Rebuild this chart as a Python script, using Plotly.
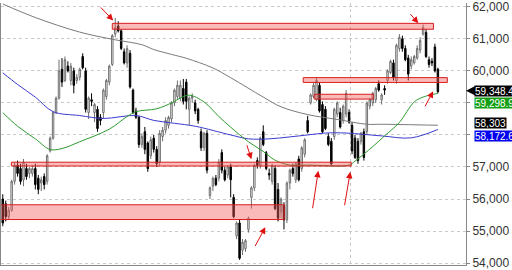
import plotly.graph_objects as go

# ---- candle data (one candle per session, left to right) ----
opens = [56000,55850,55450,55650,56550,57050,56950,56600,56950,56800,
         56800,56950,56650,56500,56700,56550,57500,57900,58700,59150,
         60050,59700,60150,59700,60000,59700,59800,60450,60000,58700,
         59100,58700,58800,58550,58700,59200,59650,60200,61150,61400,
         61250,60600,60250,60550,59400,58750,58550,57700,58100,57750,
         57350,57900,57550,57150,57950,58150,58300,58500,59000,59200,
         59150,59450,59650,58800,59150,59000,58800,58100,57600,58050,
         56100,56400,56650,56650,57450,56900,56750,57000,56050,54850,
         55250,54400,54450,55050,56050,56350,57200,57050,58100,57450,
         56800,56550,56950,56300,55600,55800,55350,56500,56950,56600,
         57250,56950,57400,58450,59000,59200,59100,59550,58950,58800,
         57950,57800,57950,58650,58700,58450,58650,58700,58300,57900,
         57800,57800,58100,58100,58900,59000,59100,59600,59100,59450,
         59700,59950,60250,59700,60700,61000,60700,60400,60150,60250,
         60400,60650,61150,61200,60350,60300,60750,60050]
highs = [56150,55950,55750,56600,57150,57200,57100,57250,57100,57000,
         57050,57100,56750,56700,56800,57400,57950,58750,59200,60350,
         60400,60450,60300,60250,60100,59900,60100,60550,60100,59200,
         59300,59000,58900,58650,59450,59750,60200,61150,61650,61550,
         61300,60700,60800,60650,59450,58850,58600,58050,58250,57800,
         57950,58000,57650,58150,58250,58550,58600,59050,59450,59700,
         59700,59750,59750,59200,59300,59100,58850,58200,58100,58150,
         56400,56700,56750,57250,57550,57000,57050,57100,56150,55300,
         55350,54750,54750,55450,56400,57100,57300,57950,58300,57500,
         56950,57100,57050,56500,56050,55900,56550,56950,57100,57150,
         57350,57650,57900,58600,59300,59650,59800,59650,59050,58900,
         58050,57900,58850,59050,58850,58950,59400,58800,58400,58000,
         57900,58100,58200,59050,59150,59350,59500,59700,59300,59550,
         60050,60350,60350,60850,61150,61100,60800,60500,60450,60500,
         60800,61050,61450,61300,60450,60400,60850,60100]
lows = [55150,55300,55350,55600,56450,56700,56450,56400,56600,56650,
        56700,56300,56150,56250,56300,56450,57450,57850,58650,59100,
        59500,59650,59950,59550,59300,59600,59700,60050,58700,58500,
        58900,58400,58100,58300,58500,59100,59550,60150,61050,61200,
        60650,60200,60100,59450,58650,58500,57600,57600,57400,56850,
        57250,57450,57000,57050,57800,58050,58200,58400,58900,59100,
        59050,58950,58800,58300,59000,58650,58350,57500,57500,56800,
        56000,56250,56400,56550,56800,56550,56650,56050,55400,54750,
        54100,54250,54350,54950,55700,56250,56950,56950,57650,56900,
        56600,56450,55650,55300,55400,55050,55250,56300,56700,56500,
        56550,56850,57300,58050,58950,59150,59050,58700,58050,58150,
        57650,57050,57850,58550,58200,58350,58550,58350,57400,57250,
        57100,57700,57200,58000,58800,58900,59000,59350,58950,59250,
        59600,59900,59700,59600,60600,60600,60300,59700,60050,60200,
        60350,60550,61100,60400,60100,60150,59950,59300]
closes = [55250,55450,55650,56550,57050,56800,56550,57150,56700,56950,
          56950,56450,56300,56600,56450,57350,57900,58700,59150,60000,
          59650,60350,60000,60150,59550,59800,60050,60100,58800,59150,
          59050,58950,58200,58450,59400,59700,60150,61100,61350,61250,
          60700,60250,60700,59500,58700,58550,57700,57950,57550,56950,
          57850,57550,57100,58050,58150,58450,58550,59000,59400,59550,
          59550,59050,59050,59150,59200,58750,58450,57600,58050,56900,
          56350,56650,56450,57150,56900,56600,57000,56600,55450,55250,
          54150,54650,54700,55400,56350,57050,57050,57900,57700,56950,
          56750,57050,55700,55400,56000,55350,56500,56900,56800,57100,
          56600,57600,57850,58100,59250,59550,59700,58750,58100,58200,
          57700,57100,58800,59000,58250,58900,59300,58400,57500,57300,
          57200,58050,57300,59000,59100,59300,59450,59400,59250,59400,
          60000,60300,59800,60800,61050,60700,60350,59900,60350,60450,
          60700,60950,61350,60450,60200,60250,60000,59348.4]

# ---- moving averages (read at sample candles) ----
ma_long_idx = [0, 11, 26, 38, 47, 51, 57, 62, 71, 77, 88, 94, 103, 113, 123, 128, 147]
ma_long_val = [62090, 61667, 61212, 60970, 60818, 60667, 60515, 60394, 60091, 59788,
               59182, 58879, 58637, 58485, 58334, 58334, 58303]
ma_mid_idx = [0, 5, 11, 17, 26, 34, 45, 51, 58, 65, 77, 83, 90, 97, 103, 109, 116, 128, 138, 147]
ma_mid_val = [59940, 59576, 59182, 58728, 58606, 58515, 58606, 58455, 58364, 58273,
              58000, 57879, 57879, 57940, 58000, 58060, 58060, 57970, 57910, 58172.6]
ma_short_idx = [0, 5, 11, 16, 20, 26, 36, 42, 45, 52, 57, 60, 63, 68, 73, 77, 83, 88, 92,
                97, 103, 117, 119, 125, 129, 134, 139, 142, 147]
ma_short_val = [58697, 58273, 57879, 57546, 57576, 57788, 58182, 58576, 58728, 58818,
                59000, 59152, 59243, 59030, 58576, 58243, 57788, 57485, 57212, 57061,
                57061, 57061, 57182, 57637, 57970, 58394, 59030, 59182, 59298.9]

# ---- support / resistance zones: (start candle, end candle, low, high) ----
zone_start = [37, 101.5, 105.2, 2.9, -1]
zone_end = [145.5, 150.2, 125.2, 117.7, 95.1]
zone_low = [61300, 59640, 59120, 57030, 55360]
zone_high = [61485, 59790, 59270, 57150, 55820]

# ---- arrows: tail (candle, price) -> head (candle, price) ----
arrow_tail_x = [32.6, 137.3, 142.4, 82.3, 85.0, 104.6, 115.4]
arrow_tail_y = [62030, 61818, 58849, 57727, 54485, 55667, 55758]
arrow_head_x = [37.3, 140.4, 145.4, 84.0, 88.7, 106.6, 117.4]
arrow_head_y = [61576, 61485, 59364, 57243, 55121, 56880, 56849]

# ---- price axis ticks ----
tick_vals = [54000, 55000, 56000, 57000, 58000, 59000, 60000, 61000, 62000]
tick_text = ["54,000", "55,000", "56,000", "57,000", "", "", "60,000", "61,000", "62,000"]

# ---- price labels on the right axis ----
label_text = ["59,348.4", "59,298.9", "58,303", "58,172.6"]
label_pos = [59380, 59010, 58364, 57960]
label_bg = ["#000000", "#12a012", "#000000", "#0000ee"]

x = list(range(len(opens)))

fig = go.Figure()
fig.add_trace(go.Candlestick(
    x=x, open=opens, high=highs, low=lows, close=closes,
    increasing=dict(line=dict(color="#6e6e6e", width=1), fillcolor="#ffffff"),
    decreasing=dict(line=dict(color="#000000", width=1), fillcolor="#000000"),
    whiskerwidth=0, showlegend=False, hoverinfo="skip"))
fig.add_trace(go.Scatter(x=ma_long_idx, y=ma_long_val, mode="lines",
                         line=dict(color="#7a7a7a", width=1, shape="spline"), showlegend=False))
fig.add_trace(go.Scatter(x=ma_mid_idx, y=ma_mid_val, mode="lines",
                         line=dict(color="#3b3bd0", width=1, shape="spline"), showlegend=False))
fig.add_trace(go.Scatter(x=ma_short_idx, y=ma_short_val, mode="lines",
                         line=dict(color="#2e9a2e", width=1, shape="spline"), showlegend=False))

for xs, xe, lo, hi in zip(zone_start, zone_end, zone_low, zone_high):
    fig.add_shape(type="rect", xref="x", yref="y", x0=xs, x1=xe, y0=lo, y1=hi,
                  fillcolor="rgba(245,90,90,0.42)", line=dict(color="#d81e1e", width=1),
                  layer="above")

for tx, ty, hx, hy in zip(arrow_tail_x, arrow_tail_y, arrow_head_x, arrow_head_y):
    fig.add_annotation(x=hx, y=hy, ax=tx, ay=ty, xref="x", yref="y", axref="x", ayref="y",
                       showarrow=True, arrowhead=2, arrowsize=1.3, arrowwidth=1,
                       arrowcolor="#e01010", text="")

# pointer for last price label
fig.add_shape(type="path", xref="paper", yref="y",
              path=f"M 1.0,{label_pos[0]} L 1.02,{label_pos[0]+150} L 1.02,{label_pos[0]-150} Z",
              fillcolor="#000000", line=dict(width=0), layer="above")

for t, p, bg in zip(label_text, label_pos, label_bg):
    fig.add_annotation(x=1.0, y=p, xref="paper", yref="y", text=t, showarrow=False,
                       xanchor="left", yanchor="middle", xshift=8, bgcolor=bg,
                       font=dict(color="#ffffff", size=10, family="Liberation Sans"),
                       height=10, align="left", borderpad=0)

fig.update_layout(
    width=512, height=270, margin=dict(l=1, r=46, t=0, b=2),
    paper_bgcolor="#ffffff", plot_bgcolor="#ffffff",
    font=dict(family="Liberation Sans", size=12, color="#333333"),
    showlegend=False,
    xaxis=dict(range=[-0.6, 156.5], rangeslider=dict(visible=False), showticklabels=False,
               tickvals=[117.4], showgrid=True, gridcolor="#c8c8c8", griddash="dot",
               zeroline=False, showline=True, linecolor="#888888", linewidth=1, ticks=""),
    yaxis=dict(range=[53940, 62120], side="right", tickvals=tick_vals, ticktext=tick_text,
               showgrid=True, gridcolor="#c8c8c8", griddash="dot",
               zeroline=False, showline=True, mirror=True, linecolor="#888888", linewidth=1,
               ticks="outside", ticklen=3, tickcolor="#888888", ticklabeloverflow="allow",
               tickfont=dict(size=12, color="#333333")),
)

fig.write_html("out.html")
